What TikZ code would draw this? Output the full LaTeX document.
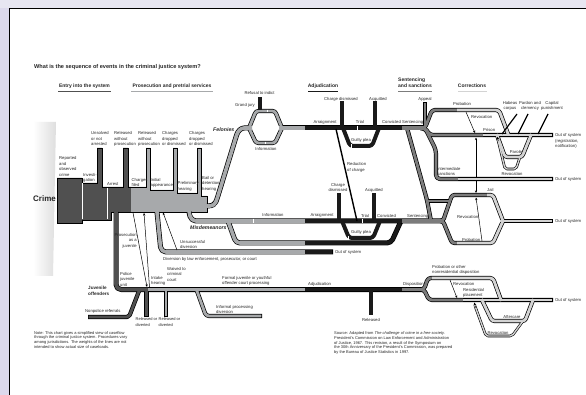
\documentclass[tikz,border=0pt]{standalone}
\usepackage{fontspec}
\setmainfont{Liberation Sans}
\usetikzlibrary{arrows.meta}
\definecolor{bgc}{HTML}{E7E6F1}
\definecolor{bgl}{HTML}{DCD9EC}
\definecolor{entryc}{HTML}{505050}
\definecolor{prosc}{HTML}{A7A9AB}
\definecolor{adjc}{HTML}{1A1A1A}
\definecolor{sentc}{HTML}{7C7C7C}
\definecolor{corrc}{HTML}{D3D3D3}
\definecolor{txtc}{HTML}{262626}
\begin{document}
\begin{tikzpicture}[x=1pt,y=-1pt,line join=round,
  PO/.style={draw=black,line width=5pt},
  PI/.style={draw=#1,line width=3.6pt},
  SO/.style={draw=black,line width=4.2pt},
  SI/.style={draw=#1,line width=2.8pt},
  TO/.style={draw=black,line width=2.6pt},
  TI/.style={draw=#1,line width=1.4pt},
  BL/.style={draw=adjc,line width=4pt},
  thinarrow/.style={draw=black,line width=0.5pt,-{Stealth[length=2.6pt,width=2.2pt]}},
  bigarrow/.style={draw=black,line width=0.5pt,-{Stealth[length=3pt,width=3pt]}},
  tickw/.style={draw=white,line width=0.7pt},
  lab/.style={font=\fontsize{4.2}{5.5}\selectfont,text=txtc,inner sep=0pt,align=left},
  labc/.style={lab,align=center},
  hdr/.style={font=\fontsize{5}{6}\selectfont\bfseries,text=txtc,inner sep=0pt,align=left},
  bi/.style={font=\fontsize{5.2}{6}\selectfont\bfseries\itshape,text=txtc,inner sep=0pt}]
\useasboundingbox (0,0) rectangle (586,395);
% page
\fill[bgc] (0,0) rectangle (586,395);
\fill[bgl] (0,8) rectangle (9,395);
\fill[white] (9,8) rectangle (586,395);
\draw[line width=1.4pt] (9.5,395) -- (9.5,8.5) -- (586,8.5);
% title and headers
\node[anchor=west,font=\fontsize{5.6}{6.7}\selectfont\bfseries,text=txtc,inner sep=0pt] (title) at (34,67) {What is the sequence of events in the criminal justice system?};
\node[hdr] (hEntry) at (84.5,86) {Entry into the system};
\draw[entryc,line width=1.8pt] (58,91.5) -- (111,91.5);
\node[hdr] (hPros) at (172,86) {Prosecution and pretrial services};
\draw[prosc,line width=1.8pt] (131,91.5) -- (213,91.5);
\node[hdr] (hAdj) at (323,86) {Adjudication};
\draw[adjc,line width=1.8pt] (308,91.5) -- (338,91.5);
\node[hdr,anchor=west] (hSent) at (398,83) {Sentencing\\and sanctions};
\draw[sentc,line width=1.8pt] (398,91.5) -- (432,91.5);
\node[hdr] (hCorr) at (472,86) {Corrections};
\draw[corrc,line width=1.8pt] (458,91.5) -- (487,91.5);
% crime funnel
\shade[left color=white,right color=black!13] (33,122) -- (56,122) -- (53,276) -- (33,276) -- cycle;
% entry block
\draw[fill=entryc,line width=0.6pt,line join=miter] (57,178) -- (82,178) -- (82,183) -- (97,183) -- (97,148) -- (102,148) -- (102,187) -- (123,187) -- (123,148) -- (128,148) -- (128,187) -- (131,187) -- (131,212) -- (111,212) -- (111,220) -- (82,220) -- (82,223) -- (57,223) -- cycle;
% prosecution block
\draw[fill=prosc,line width=0.6pt,line join=miter] (131,187) -- (146,187) -- (146,148) -- (150,148) -- (150,190) -- (173,190) -- (173,148) -- (177,148) -- (177,193) -- (197,193) -- (197,148) -- (201,148) -- (201,196) -- (207,196) -- (207,212) -- (131,212);
\draw[white,line width=0.6pt] (82,183.5) -- (82,219.5);
\draw[white,line width=0.6pt] (107,187.6) -- (107,219.4);
% ---------- outers ----------
\draw[PO,rounded corners=3pt] (207,206) .. controls (213,206) and (215,204) .. (217,199) -- (236,137) .. controls (238,131) and (241,128) .. (247,128) -- (251,128);
\draw[SO,rounded corners=2.5pt] (249,128) -- (256,111) -- (275,111) -- (282,128);
\draw[SO,rounded corners=2.5pt] (249,128) -- (256,143) -- (275,143) -- (282,128);
\draw[PO] (280,128) -- (424,128);
\draw[PO,rounded corners=5pt] (189,212) -- (191,221) -- (443,221);
\draw[PO,rounded corners=4pt] (228,221) -- (236,243) -- (391,243) -- (401,221);
\draw[PO,rounded corners=5pt] (157,212) -- (161,252) -- (333,252);
\draw[PO,rounded corners=5pt] (116,212) -- (116,289.5) -- (424,289.5);
\draw[SO,rounded corners=2pt] (88,317) -- (129,317) -- (139,291);
\draw[SO] (146.5,291) -- (146.5,317);
\draw[SO] (166,291) -- (166,317);
\draw[SO,rounded corners=3pt] (197,291) -- (206,316) -- (262,316);
\draw[SO] (425,127) -- (425,102);
\draw[SO,rounded corners=3pt] (420,128) -- (425,128) -- (432,110) -- (499,110) -- (508,134);
\draw[SO,rounded corners=3pt] (420,128) -- (425,128) -- (430,135) -- (553,135);
\draw[SO,rounded corners=4pt] (420,128) -- (425,128) -- (436,150) -- (436,179) -- (553,179);
\draw[SO,rounded corners=4pt] (407,128) -- (427,200) -- (431,221);
\draw[SO] (427,201) -- (450,201);
\draw[SO,rounded corners=2.5pt] (441,221) -- (443,221) -- (452,195) -- (493,195) -- (503,221);
\draw[SO,rounded corners=2.5pt] (441,221) -- (443,221) -- (452,243) -- (493,243) -- (503,221);
\draw[SO] (501,221) -- (553,221);
\draw[SO,rounded corners=2.5pt] (497,135) -- (505,157) -- (522,157) -- (531,135);
\draw[SO,rounded corners=3pt] (420,289.5) -- (424,289.5) -- (428,278) -- (493,278) -- (501,300);
\draw[SO,rounded corners=3pt] (420,289.5) -- (424,289.5) -- (429,300) -- (553,300);
\draw[SO,rounded corners=2.5pt] (482,300) -- (492,321) -- (525,321) -- (533,300);
\draw[TO,rounded corners=2pt] (520,157) -- (516,169) -- (505,169) -- (498,140);
\draw[TO,rounded corners=2pt] (523,321) -- (512,336) -- (486,336) -- (475,306);
% ---------- inners ----------
\draw[PI=prosc,rounded corners=3pt] (205,206) -- (207,206) .. controls (213,206) and (215,204) .. (217,199) -- (236,137) .. controls (238,131) and (241,128) .. (247,128) -- (252,128);
\draw[SI=prosc,rounded corners=2.5pt] (249,128) -- (256,111) -- (275,111) -- (282,128);
\draw[SI=prosc,rounded corners=2.5pt] (249,128) -- (256,143) -- (275,143) -- (282,128);
\draw[PI=prosc] (279,128) -- (305,128);
\draw[PI=adjc] (305,128) -- (402,128);
\draw[PI=sentc] (402,128) -- (424,128);
\draw[PI=prosc,rounded corners=5pt] (188.8,210) -- (191,221) -- (305,221);
\draw[PI=adjc] (305,221) -- (402,221);
\draw[PI=sentc] (402,221) -- (444,221);
\draw[PI=prosc,rounded corners=4pt] (227.6,220) -- (236,243) -- (305,243);
\draw[PI=adjc,rounded corners=4pt] (305,243) -- (391,243) -- (400,223.2);
\draw[PI=prosc,rounded corners=5pt] (156.8,210) -- (161,252) -- (305,252);
\draw[PI=adjc] (305,252) -- (332.3,252);
\draw[PI=entryc,rounded corners=5pt] (116,210.5) -- (116,289.5) -- (148,289.5);
\draw[PI=prosc] (148,289.5) -- (305,289.5);
\draw[PI=adjc] (305,289.5) -- (402,289.5);
\draw[PI=sentc] (402,289.5) -- (424,289.5);
\draw[SI=entryc,rounded corners=2pt] (88.7,317) -- (129,317) -- (139.4,290);
\draw[SI=entryc] (146.5,290) -- (146.5,316.3);
\draw[SI=prosc] (166,290) -- (166,316.3);
\draw[SI=prosc,rounded corners=3pt] (196.6,290) -- (206,316) -- (261.3,316);
\draw[draw=adjc,line width=4.2pt] (371,291) -- (371,315);
% black exit pipes
\draw[draw=adjc,line width=4pt] (260,110) -- (260,97);
\draw[BL] (342,127) -- (342,101);
\draw[BL] (375,127) -- (375,101);
\draw[BL] (339,220) -- (339,193);
\draw[BL] (374,220) -- (374,193);
\draw[BL,rounded corners=3pt] (343,128) -- (350,146) -- (372,146) -- (379,128);
\draw[BL,rounded corners=3pt] (342,221) -- (349,238) -- (373,238) -- (380,221);
% corrections inners
\draw[SI=sentc] (425,128) -- (425,102.7);
\draw[SI=sentc,rounded corners=3pt] (420,128) -- (425,128) -- (432,110) -- (457,110);
\draw[SI=corrc,rounded corners=3pt] (457,110) -- (499,110) -- (508.6,135.5);
\draw[SI=sentc,rounded corners=3pt] (420,128) -- (425,128) -- (430,135) -- (483,135);
\draw[SI=corrc] (483,135) -- (552.3,135);
\draw[SI=sentc,rounded corners=4pt] (420,128) -- (425,128) -- (436,150) -- (436,179) -- (458,179);
\draw[SI=corrc] (458,179) -- (552.3,179);
\draw[SI=sentc,rounded corners=4pt] (406.7,127) -- (427,200) -- (431,221);
\draw[SI=sentc] (426,201) -- (451,201);
\draw[SI=sentc,rounded corners=2.5pt] (441,221) -- (443,221) -- (452,195) -- (487,195);
\draw[SI=corrc,rounded corners=2.5pt] (487,195) -- (493,195) -- (503,221);
\draw[SI=sentc,rounded corners=2.5pt] (441,221) -- (443,221) -- (452,243) -- (457,243);
\draw[SI=corrc,rounded corners=2.5pt] (457,243) -- (493,243) -- (503,221);
\draw[SI=corrc] (500,221) -- (552.3,221);
\draw[SI=corrc,rounded corners=2.5pt] (496.6,134) -- (505,157) -- (522,157) -- (531.4,134);
\draw[SI=sentc,rounded corners=3pt] (420,289.5) -- (424,289.5) -- (428,278) -- (432,278);
\draw[SI=corrc,rounded corners=3pt] (432,278) -- (493,278) -- (501.3,301);
\draw[SI=sentc,rounded corners=3pt] (420,289.5) -- (424,289.5) -- (429,300) -- (463,300);
\draw[SI=corrc] (463,300) -- (552.3,300);
\draw[SI=corrc,rounded corners=2.5pt] (481.5,299) -- (492,321) -- (525,321) -- (533.4,299);
\draw[TI=corrc,rounded corners=2pt] (520,157) -- (516,169) -- (505,169) -- (498,140);
\draw[TI=corrc,rounded corners=2pt] (523,321) -- (512,336) -- (486,336) -- (475,306);
% arrows and thin lines
\draw[bigarrow] (498.3,141) -- (497.2,136.8);
\draw[bigarrow] (475.6,307.5) -- (474.2,302.6);
\draw[thinarrow] (466,112) -- (475,133);
\draw[thinarrow] (476,177) -- (476,137.5);
\draw[thinarrow] (476,181) -- (476,193);
\draw[thinarrow] (482,241) -- (476,197.5);
\draw[thinarrow] (450,280) -- (457,298);
\draw[thinarrow] (133,212.5) -- (147,287);
\draw[thinarrow] (149.5,287) -- (144,213);
\draw[thinarrow] (177,250) -- (163,212.5);
\draw[line width=1.4pt] (336,129) -- (357,221);
\draw[line width=1.2pt] (517,114) -- (502,134);
\draw[line width=1.2pt] (528,114) -- (518,134);
\draw[line width=1.2pt] (548,114) -- (538,134);
% white ticks
\draw[tickw] (357,125.6) -- (357,130.4);
\draw[tickw] (362,218.6) -- (362,223.4);
\draw[tickw] (253,218.6) -- (253,223.4);
\draw[tickw] (267,109.6) -- (267,112.4);
\draw[tickw] (265,141.6) -- (265,144.4);
\draw[tickw] (351,144) -- (351,148);
\draw[tickw] (348,236) -- (348,240);
% ---------- labels ----------
\node[font=\fontsize{8}{9}\selectfont\bfseries,text=txtc,inner sep=0pt] (crime) at (44.5,199) {Crime};
\node[lab,anchor=west] (lRep) at (59,166.5) {Reported\\and\\observed\\crime};
\node[lab,anchor=west] (lInv) at (83,178) {Investi-\\gation};
\node[lab,anchor=west] (lUns) at (91,139) {Unsolved\\or not\\arrested};
\node[lab,anchor=west] (lRel1) at (114,139) {Released\\without\\prosecution};
\node[lab,anchor=west] (lRel2) at (138,139) {Released\\without\\prosecution};
\node[lab,anchor=west] (lDr1) at (162,139) {Charges\\dropped\\or dismissed};
\node[lab,anchor=west] (lDr2) at (189,139) {Charges\\dropped\\or dismissed};
\node[lab,anchor=west] (lArr) at (107,184.5) {Arrest};
\node[lab,anchor=west] (lFil) at (131.5,182.5) {Charges\\filed};
\node[lab,anchor=west] (lIni) at (150.5,183) {Initial\\appearance};
\node[lab,anchor=west] (lPre) at (177.5,186.5) {Preliminary\\hearing};
\node[lab,anchor=west] (lBail) at (202,183.5) {Bail or\\detention\\hearing};
\node[bi,anchor=west] (lFel) at (213,129.5) {Felonies};
\node[labc] (lRef) at (259.5,93) {Refusal to indict};
\node[lab,anchor=west] (lGj) at (235,105) {Grand jury};
\node[labc] (lInf1) at (266,149) {Information};
\node[labc] (lAr1) at (325,122) {Arraignment};
\node[labc] (lCd1) at (341,99) {Charge dismissed};
\node[labc] (lTr1) at (360,122.5) {Trial};
\node[labc] (lAq1) at (378,99) {Acquitted};
\node[lab,anchor=west] (lCv1) at (382,122.5) {Convicted};
\node[lab,anchor=west] (lSe1) at (402,122.5) {Sentencing};
\node[labc] (lGp1) at (361,140) {Guilty plea};
\node[lab,anchor=west] (lRed) at (347,167.5) {Reduction\\of charge};
\node[labc] (lApp) at (425,99) {Appeal};
\node[labc] (lInf2) at (273,215.5) {Information};
\node[labc] (lAr2) at (322,215.5) {Arraignment};
\node[labc] (lCd2) at (338,187.5) {Charge\\dismissed};
\node[labc] (lTr2) at (365,216) {Trial};
\node[labc] (lAq2) at (374,190) {Acquitted};
\node[lab,anchor=west] (lCv2) at (377,216) {Convicted};
\node[lab,anchor=west] (lSe2) at (407,216) {Sentencing};
\node[labc] (lGp2) at (361,232) {Guilty plea};
\node[bi,anchor=west] (lMis) at (190,228) {Misdemeanors};
\node[lab,anchor=west] (lUnd) at (180,244.5) {Unsuccessful\\diversion};
\node[lab,anchor=west] (lOut1) at (335,252.5) {Out of system};
\node[lab,anchor=west] (lDiv) at (163,259) {Diversion by law enforcement, prosecutor, or court};
\node[hdr,font=\fontsize{4.6}{5.6}\selectfont\bfseries,anchor=west] (lJuv) at (88,291) {Juvenile\\offenders};
\node[lab,anchor=west] (lPol) at (120,279) {Police\\juvenile\\unit};
\node[lab,anchor=east,align=right] (lPaj) at (137,240.5) {Prosecution\\as a\\juvenile};
\node[lab,anchor=west] (lInt) at (151,281) {Intake\\hearing};
\node[lab,anchor=west] (lWai) at (167,274) {Waived to\\criminal\\court};
\node[lab,anchor=west] (lNon) at (85,311.5) {Nonpolice referrals};
\node[lab,font=\fontsize{4}{5.3}\selectfont,anchor=west] (lRd1) at (135.5,322) {Released or\\diverted};
\node[lab,font=\fontsize{4}{5.3}\selectfont,anchor=west] (lRd2) at (158.5,322) {Released or\\diverted};
\node[lab,anchor=west] (lFor) at (222,281) {Formal juvenile or youthful\\offender court processing};
\node[lab,anchor=west] (lInfp) at (216,309.5) {Informal processing\\diversion};
\node[lab,anchor=west] (lAdj) at (308,284.5) {Adjudication};
\node[labc] (lRelj) at (371,320) {Released};
\node[lab,anchor=west] (lDis) at (403,284.5) {Disposition};
\node[lab,anchor=west] (lPon) at (432,270) {Probation or other\\nonresidential disposition};
\node[lab,anchor=west] (lRv4) at (453,283.5) {Revocation};
\node[lab,anchor=west] (lRes) at (463,293) {Residential\\placement};
\node[lab,anchor=west] (lOut5) at (555,300) {Out of system};
\node[labc] (lAft) at (512,317) {Aftercare};
\node[labc] (lRv5) at (498,333) {Revocation};
\node[labc] (lProb1) at (462,104.5) {Probation};
\node[lab,anchor=west] (lRv1) at (471,117) {Revocation};
\node[lab,anchor=west] (lPri) at (483,130.5) {Prison};
\node[labc] (lHab) at (510,106) {Habeas\\corpus};
\node[labc] (lPar) at (530,106) {Pardon and\\clemency};
\node[labc] (lCap) at (552,106) {Capital\\punishment};
\node[labc] (lParo) at (516,152.5) {Parole};
\node[labc] (lRv2) at (512,174) {Revocation};
\node[lab,anchor=west] (lOut2) at (555,141) {Out of system\\(registration,\\notification)};
\node[lab,anchor=west] (lIms) at (437,171.5) {Intermediate\\sanctions};
\node[lab,anchor=west] (lOut3) at (555,179) {Out of system};
\node[lab,anchor=west] (lJail) at (487,190.5) {Jail};
\node[lab,anchor=west] (lRv3) at (457,217) {Revocation};
\node[lab,anchor=west] (lProb2) at (462,239.5) {Probation};
\node[lab,anchor=west] (lOut4) at (555,221.5) {Out of system};
% notes
\node[lab,font=\fontsize{4}{4.9}\selectfont,anchor=west] (note) at (34,340) {Note: This chart gives a simplified view of caseflow\\through the criminal justice system. Procedures vary\\among jurisdictions. The weights of the lines are not\\intended to show actual size of caseloads.};
\node[lab,font=\fontsize{4}{4.9}\selectfont,anchor=west] (source) at (334,343) {Source: Adapted from \textit{The challenge of crime in a free society.}\\President's Commission on Law Enforcement and Administration\\of Justice, 1967. This revision, a result of the Symposium on\\the 30th Anniversary of the President's Commission, was prepared\\by the Bureau of Justice Statistics in 1997.};
\end{tikzpicture}
\end{document}
